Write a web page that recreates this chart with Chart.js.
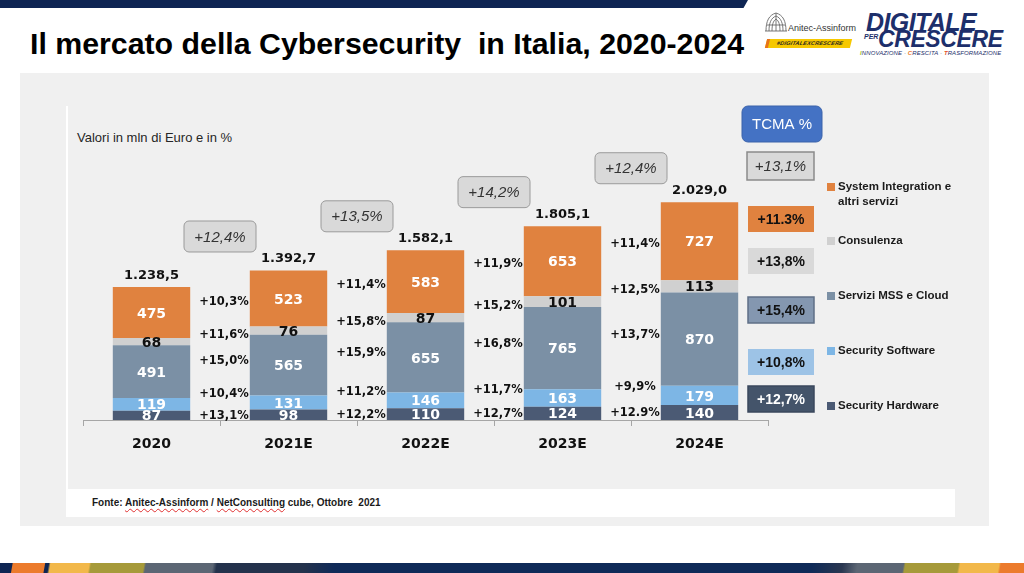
<!DOCTYPE html>
<html lang="it">
<head>
<meta charset="utf-8">
<title>Il mercato della Cybersecurity in Italia, 2020-2024</title>
<script src="https://cdn.jsdelivr.net/npm/chart.js@4.4.1/dist/chart.umd.min.js"></script>
<style>
  html, body { margin: 0; padding: 0; background: #fff; }
  #slide { position: relative; width: 1024px; height: 573px; overflow: hidden; background: #fff;
           font-family: 'Liberation Sans', Arial, sans-serif; }
  .topband { position: absolute; left: 0; top: 0; width: 748px; height: 8px; background: #0e2553;
             clip-path: polygon(0 0, 100% 0, 99.4% 100%, 0 100%); }
  .bottomband { position: absolute; left: 0; top: 563px; width: 1024px; height: 10px;
                background: linear-gradient(100deg, #0e2553 0 12px, #ec7b2c 13px 44px, #0e2553 45px 48px,
                  #f2b84a 50px 88px, #a69a3a 90px 142px, #5c6674 144px 210px, #24324c 214px 300px,
                  #0f2a58 330px 800px, #2a3750 830px, #5c6674 845px 890px, #a69a3a 892px 944px,
                  #f2b84a 946px 984px, #ec7b2c 986px 1014px, #0e2553 1016px); }
  h1 { position: absolute; left: 30px; top: 27px; margin: 0; font: bold 30.3px 'Liberation Sans', Arial, sans-serif;
       color: #000; white-space: pre; }
  .panel { position: absolute; left: 20px; top: 73px; width: 969px; height: 453px; background: #f0f0f0; }
  .edge { position: absolute; left: 66px; top: 106px; width: 2px; height: 383px; background: #fff; }
  .fontebox { position: absolute; left: 66px; top: 489px; width: 889px; height: 28px; background: #fff; }
  .fonte { position: absolute; left: 92px; top: 497px; font: bold 10px 'Liberation Sans', Arial, sans-serif;
           color: #1a1a1a; white-space: pre; }
  .fonte span { text-decoration: underline wavy #e03030; text-decoration-thickness: 1px; text-underline-offset: 2px; }
  .unita { position: absolute; left: 77px; top: 130px; font: 13px 'Liberation Sans', Arial, sans-serif; color: #262626; }
  .aa-text { position: absolute; left: 788px; top: 23px; font: 9px 'Liberation Sans', Arial, sans-serif; color: #333; }
  .aa-tag { position: absolute; left: 766px; top: 39px; width: 82px; height: 9px; background: #f6c800;
            border-left: 3px solid #e8731a; transform: skewX(-14deg); font: bold italic 5.5px 'Liberation Sans', Arial, sans-serif;
            color: #222; text-align: center; line-height: 9px; letter-spacing: 0.2px; }
  .dpc { position: absolute; font-family: 'Liberation Sans', Arial, sans-serif; font-weight: bold; font-style: italic;
         color: #1d2f6b; white-space: pre; line-height: 1; }
  .tagline { position: absolute; left: 860px; top: 50px; font: italic 6px 'Liberation Sans', Arial, sans-serif;
             color: #1d2f6b; white-space: pre; letter-spacing: 0.1px; }
  canvas { position: absolute; left: 0; top: 0; }
</style>
</head>
<body>
<div id="slide">
  <div class="topband"></div>
  <h1>Il mercato della Cybersecurity  in Italia, 2020-2024</h1>

  <svg style="position:absolute;left:763px;top:11px" width="26" height="22" viewBox="0 0 26 22">
    <g fill="none" stroke="#6a6a6a" stroke-width="0.9">
      <path d="M3 20 C3 10 6 4 13 2 C20 4 23 10 23 20"/>
      <path d="M6 20 C6 12 8 7 13 5 C18 7 20 12 20 20"/>
      <path d="M9 20 C9 14 10 10 13 8 C16 10 17 14 17 20"/>
      <path d="M13 2 L13 20"/>
      <path d="M2 20 L24 20"/>
      <path d="M4 14 L22 14"/>
    </g>
  </svg>
  <div class="aa-text">Anitec-Assinform</div>
  <div class="aa-tag">#DIGITALEXCRESCERE</div>
  <div class="dpc" style="left:866px;top:10px;font-size:25px;letter-spacing:-0.6px">DIGITALE</div>
  <div class="dpc" style="left:864px;top:33px;font-size:7px">PER</div>
  <div class="dpc" style="left:878px;top:28px;font-size:23px;letter-spacing:-0.4px">CRESCERE</div>
  <div class="tagline"><b style="color:#9bbf2a">I</b>NNOVAZIONE · <b style="color:#ec7b2c">C</b>RESCITA · <b style="color:#e2502a">T</b>RASFORMAZIONE</div>

  <div class="panel"></div>
  <div class="edge"></div>
  <div class="fontebox"></div>
  <div class="unita">Valori in mln di Euro e in %</div>
  <div class="fonte">Fonte: <span>Anitec-Assinform</span> / <span>NetConsulting</span> cube, Ottobre  2021</div>

  <canvas id="cyberChart" width="1024" height="573"></canvas>
  <div class="bottomband"></div>
</div>

<script>
/* Valori in mln di Euro */
const categories = ['2020', '2021E', '2022E', '2023E', '2024E'];
const hardware   = [87, 98, 110, 124, 140];
const software   = [119, 131, 146, 163, 179];
const mssCloud   = [491, 565, 655, 765, 870];
const consulenza = [68, 76, 87, 101, 113];
const systemInt  = [475, 523, 583, 653, 727];
const totals     = [1238.5, 1392.7, 1582.1, 1805.1, 2029.0];

/* Crescita annua per segmento (2021E..2024E) */
const hardwareGrowth   = ['+13,1%', '+12,2%', '+12,7%', '+12.9%'];
const softwareGrowth   = ['+10,4%', '+11,2%', '+11,7%', '+9,9%'];
const mssCloudGrowth   = ['+15,0%', '+15,9%', '+16,8%', '+13,7%'];
const consulenzaGrowth = ['+11,6%', '+15,8%', '+15,2%', '+12,5%'];
const systemIntGrowth  = ['+10,3%', '+11,4%', '+11,9%', '+11,4%'];
const totalGrowth      = ['+12,4%', '+13,5%', '+14,2%', '+12,4%'];

/* TCMA % 2020-2024 */
const tcmaTotal    = '+13,1%';
const tcmaSegments = ['+12,7%', '+10,8%', '+15,4%', '+13,8%', '+11.3%']; // HW, SW, MSS, Cons, SI

const COLORS = ['#4b5a74', '#7db6e5', '#7b90a5', '#d0d0d0', '#e0823f'];

function fmtIt(v) {
    const [int, dec] = v.toFixed(1).split('.');
    return int.replace(/\B(?=(\d{3})+(?!\d))/g, '.') + ',' + dec;
}

function roundRect(ctx, x, y, w, h, r) {
    ctx.beginPath();
    ctx.moveTo(x + r, y);
    ctx.arcTo(x + w, y, x + w, y + h, r);
    ctx.arcTo(x + w, y + h, x, y + h, r);
    ctx.arcTo(x, y + h, x, y, r);
    ctx.arcTo(x, y, x + w, y, r);
    ctx.closePath();
}

/* small vertical nudges for the growth labels, per dataset (HW..SI) */
const growthNudge = [1, -8, -4, 4, 3];

const slideLabels = {
    id: 'slideLabels',
    afterDatasetsDraw(chart) {
        const { ctx, chartArea } = chart;
        const sets = chart.data.datasets;
        ctx.save();
        ctx.textAlign = 'center';
        ctx.textBaseline = 'middle';

        sets.forEach((ds, i) => {
            const meta = chart.getDatasetMeta(i);
            meta.data.forEach((bar, j) => {
                const mid = (bar.y + bar.base) / 2;
                // value inside segment
                ctx.save();
                ctx.beginPath();
                ctx.rect(chartArea.left, chartArea.top - 20, chartArea.width, chartArea.bottom - chartArea.top + 20);
                ctx.clip();
                ctx.font = 'bold 14px "DejaVu Sans"';
                ctx.fillStyle = ds.valueColor;
                ctx.fillText(ds.data[j], bar.x, mid + 1.5);
                ctx.restore();
                // growth vs previous year
                if (j > 0) {
                    const prev = meta.data[j - 1];
                    const gx = (prev.x + prev.width / 2 + bar.x - bar.width / 2) / 2 + 4;
                    ctx.font = 'bold 11.5px "DejaVu Sans"';
                    ctx.fillStyle = '#111';
                    ctx.fillText(ds.growth[j - 1], gx, mid + growthNudge[i]);
                }
            });
        });

        // totals above bars and yearly growth boxes
        const topMeta = chart.getDatasetMeta(sets.length - 1);
        topMeta.data.forEach((bar, j) => {
            ctx.font = 'bold 13px "DejaVu Sans"';
            ctx.fillStyle = '#111';
            ctx.textBaseline = 'alphabetic';
            ctx.fillText(fmtIt(totals[j]), bar.x, bar.y - 8);
            ctx.textBaseline = 'middle';
            if (j > 0) {
                const prev = topMeta.data[j - 1];
                const cx = (prev.x + bar.x) / 2;
                const cy = bar.y - 34;
                roundRect(ctx, cx - 36, cy - 15.5, 72, 31, 5);
                ctx.fillStyle = '#d9d9d9';
                ctx.fill();
                ctx.strokeStyle = '#9a9a9a';
                ctx.lineWidth = 1;
                ctx.stroke();
                ctx.font = 'italic 15px "Liberation Sans"';
                ctx.fillStyle = '#333';
                ctx.fillText(totalGrowth[j - 1], cx, cy + 1);
            }
        });

        // TCMA header
        roundRect(ctx, 742, 106, 80, 36, 6);
        ctx.fillStyle = '#4472c4';
        ctx.fill();
        ctx.strokeStyle = '#3a62aa';
        ctx.stroke();
        ctx.font = '15px "Liberation Sans"';
        ctx.fillStyle = '#fff';
        ctx.fillText('TCMA %', 782, 125);

        // total TCMA
        ctx.fillStyle = '#d9d9d9';
        ctx.fillRect(747, 152, 67, 28);
        ctx.strokeStyle = '#8a8a8a';
        ctx.lineWidth = 1.5;
        ctx.strokeRect(747, 152, 67, 28);
        ctx.font = 'italic 15px "Liberation Sans"';
        ctx.fillStyle = '#333';
        ctx.fillText(tcmaTotal, 780.5, 166.5);

        // per-segment TCMA boxes and legend (HW..SI)
        const boxFill   = ['#44546a', '#9dc3e6', '#8497b0', '#d9d9d9', '#e0823f'];
        const boxStroke = ['#3a475c', null, '#5f6f86', null, null];
        const boxY      = [386, 349, 297, 248, 206];
        const legendY   = [406, 351, 296, 241, 187];
        sets.forEach((ds, i) => {
            const bx = 748, bw = 66, bh = 26;
            ctx.fillStyle = boxFill[i];
            ctx.fillRect(bx, boxY[i], bw, bh);
            if (boxStroke[i]) {
                ctx.strokeStyle = boxStroke[i];
                ctx.lineWidth = 1.5;
                ctx.strokeRect(bx, boxY[i], bw, bh);
            }
            ctx.font = 'bold 14px "Liberation Sans"';
            ctx.fillStyle = i === 0 ? '#fff' : '#111';
            ctx.textAlign = 'center';
            ctx.fillText(tcmaSegments[i], bx + bw / 2, boxY[i] + bh / 2 + 1);

            // legend
            ctx.fillStyle = ds.backgroundColor;
            ctx.fillRect(827, legendY[i] - 4, 8, 8);
            ctx.save();
            ctx.beginPath();
            ctx.rect(826, legendY[i] - 12, 128, 40);
            ctx.clip();
            ctx.font = 'bold 11.5px "Liberation Sans"';
            ctx.fillStyle = '#1a1a1a';
            ctx.textAlign = 'left';
            const words = ds.label.split(' ');
            let line = '', ly = legendY[i];
            words.forEach(w => {
                const test = line ? line + ' ' + w : w;
                if (line && ctx.measureText(test).width > 118) {
                    ctx.fillText(line, 838, ly);
                    line = w;
                    ly += 15;
                } else {
                    line = test;
                }
            });
            ctx.fillText(line, 838, ly);
            ctx.restore();
        });
        ctx.restore();
    }
};

const ctx = document.getElementById('cyberChart');
new Chart(ctx, {
    type: 'bar',
    data: {
        labels: categories,
        datasets: [
            { label: 'Security Hardware', data: hardware, backgroundColor: COLORS[0], growth: hardwareGrowth, valueColor: '#fff' },
            { label: 'Security Software', data: software, backgroundColor: COLORS[1], growth: softwareGrowth, valueColor: '#fff' },
            { label: 'Servizi MSS e Cloud', data: mssCloud, backgroundColor: COLORS[2], growth: mssCloudGrowth, valueColor: '#fff' },
            { label: 'Consulenza', data: consulenza, backgroundColor: COLORS[3], growth: consulenzaGrowth, valueColor: '#111' },
            { label: 'System Integration e altri servizi', data: systemInt, backgroundColor: COLORS[4], growth: systemIntGrowth, valueColor: '#fff' }
        ]
    },
    options: {
        responsive: false,
        animation: false,
        events: [],
        layout: { padding: { left: 83, right: 256, top: 98, bottom: 113 } },
        datasets: { bar: { categoryPercentage: 1, barPercentage: 0.565, borderWidth: 0 } },
        scales: {
            x: {
                stacked: true,
                grid: { display: true, offset: true, drawOnChartArea: false, drawTicks: true, tickLength: 6, color: '#a6a6a6' },
                border: { display: true, color: '#a6a6a6', width: 1 },
                ticks: { color: '#111', padding: 10, font: { family: 'DejaVu Sans', size: 14, weight: 'bold' } },
                afterFit: axis => { axis.height = 40; }
            },
            y: { stacked: true, display: false, min: 0, max: 3000 }
        },
        plugins: { legend: { display: false }, tooltip: { enabled: false } }
    },
    plugins: [slideLabels]
});
</script>
</body>
</html>
